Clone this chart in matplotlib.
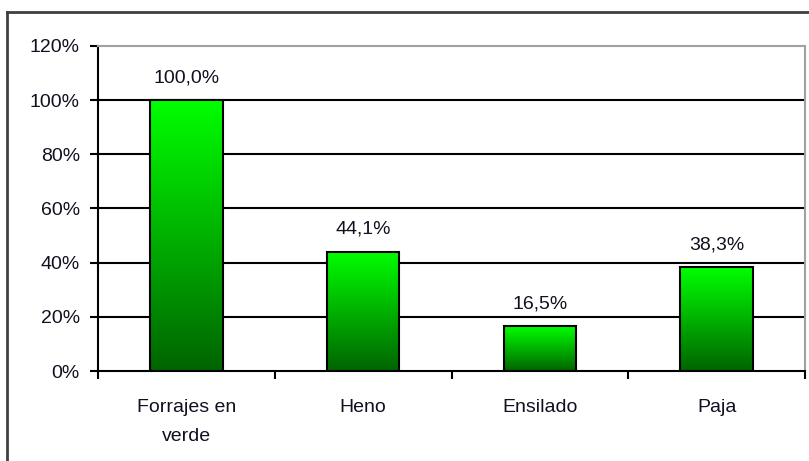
import matplotlib
matplotlib.use("Agg")
import matplotlib.pyplot as plt
import numpy as np
from matplotlib.colors import LinearSegmentedColormap
from matplotlib.lines import Line2D

categories = ["Forrajes en\nverde", "Heno", "Ensilado", "Paja"]
values = [100.0, 44.1, 16.5, 38.3]
value_labels = ["100,0%", "44,1%", "16,5%", "38,3%"]
yticks = [0, 20, 40, 60, 80, 100, 120]

plt.rcParams["font.family"] = ["Liberation Sans", "DejaVu Sans"]
text_color = "#101020"
fs = 14

fig = plt.figure(figsize=(8.09, 4.61), dpi=100)
ax = fig.add_axes([98 / 809, 90 / 461, 707 / 809, 325 / 461])

# vertical gradient bright green (top) -> dark green (bottom)
cmap = LinearSegmentedColormap.from_list("grn", ["#006400", "#00ff00"])
grad = np.linspace(0, 1, 256).reshape(-1, 1)

bar_w = 0.41
x = np.arange(len(categories))
for xi, v, lab in zip(x, values, value_labels):
    ax.imshow(grad, cmap=cmap, origin="lower", aspect="auto",
              extent=[xi - bar_w / 2, xi + bar_w / 2, 0, v], zorder=3)
    ax.bar(xi, v, width=bar_w, facecolor="none", edgecolor="black",
           linewidth=1.5, zorder=4)
    ax.annotate(lab, (xi, v), xytext=(0, 10), textcoords="offset points",
                ha="center", va="bottom", fontsize=fs, color=text_color)

ax.set_xlim(-0.5, len(categories) - 0.5)
ax.set_ylim(0, 120)
ax.set_yticks(yticks)
ax.set_yticklabels([f"{t}%" for t in yticks])
for t in yticks[1:-1]:
    ax.axhline(t, color="black", linewidth=1.5, zorder=2)

ax.set_xticks(x)
ax.set_xticklabels(categories, linespacing=1.95)
ax.set_xticks(np.arange(-0.5, len(categories)), minor=True)
ax.tick_params(axis="x", which="major", length=0, pad=20,
               labelsize=fs, labelcolor=text_color)
ax.tick_params(axis="x", which="minor", length=6, width=1.5, direction="out")
ax.tick_params(axis="y", length=6, width=1.5, direction="out", pad=7,
               labelsize=fs, labelcolor=text_color)

for side in ["top", "right"]:
    ax.spines[side].set_color("#a0a0a0")
    ax.spines[side].set_linewidth(1.5)
for side in ["left", "bottom"]:
    ax.spines[side].set_color("black")
    ax.spines[side].set_linewidth(1.5)

# outer frame of the chart (cut at right and bottom edges)
x0 = 7 / 809
y0 = 1 - 12 / 461
fig.add_artist(Line2D([x0, x0], [0, y0], transform=fig.transFigure,
                      color="#404040", linewidth=2))
fig.add_artist(Line2D([x0, 1], [y0, y0], transform=fig.transFigure,
                      color="#404040", linewidth=2))

fig.savefig("out.png", dpi=100)
